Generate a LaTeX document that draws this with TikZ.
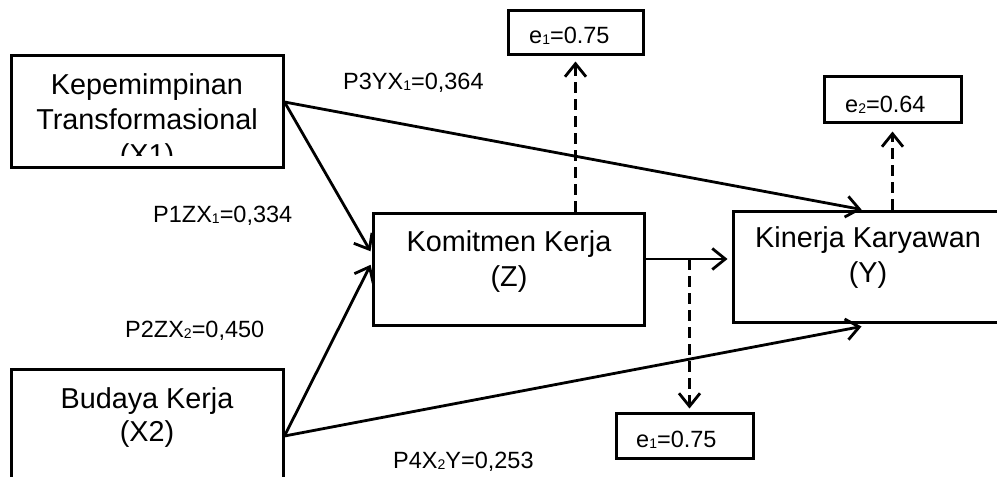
\documentclass[tikz,border=0pt]{standalone}
\usepackage{fontspec}
\setmainfont{Liberation Sans}
\usetikzlibrary{arrows.meta}
\newcommand{\subidx}[1]{\raisebox{-0.06em}{\fontsize{14}{14}\selectfont #1}}
\tikzset{
  box/.style={draw, line width=3pt, inner sep=0pt},
  boxtext/.style={align=center, inner sep=0pt, font=\fontsize{28.8}{35}\selectfont},
  lbl/.style={anchor=base west, inner sep=0pt, font=\fontsize{23.5}{28}\selectfont},
  arr/.style={line width=2.8pt, -{Straight Barb[length=13pt,width=21pt]}},
  darr/.style={arr, dash pattern=on 11pt off 6pt},
}
\begin{document}
\begin{tikzpicture}[x=1pt,y=-1pt]
\useasboundingbox (0,0) rectangle (997,477);
\clip (0,0) rectangle (997,477);

% boxes
\node[box, minimum width=272pt, minimum height=112pt] (x1) at (147,111) {};
\node[box, minimum width=272pt, minimum height=131pt] (x2) at (147,434.5) {};
\node[box, minimum width=271pt, minimum height=112pt] (z) at (508.5,269) {};
\node[box, minimum width=287pt, minimum height=111pt] (y) at (876.5,266.5) {};
\node[box, minimum width=135pt, minimum height=44pt] (e1t) at (575.5,32) {};
\node[box, minimum width=137pt, minimum height=46pt] (e2) at (892.5,99) {};
\node[box, minimum width=137pt, minimum height=45pt] (e1b) at (684.5,435.5) {};

% box texts
\begin{scope}
  \clip (11,55) rectangle (283,155);
  \node[boxtext] (x1t) at (147,122.5) {Kepemimpinan\\Transformasional\\(X1)};
\end{scope}
\node[boxtext] (zt) at (509,262) {Komitmen Kerja\\(Z)};
\node[boxtext] (yt) at (868,258) {Kinerja Karyawan\\(Y)};
\node[boxtext, font=\fontsize{28.8}{33}\selectfont] (x2t) at (147,418) {Budaya Kerja\\(X2)};

\node[lbl] (e1tt) at (529,43) {e\subidx{1}=0.75};
\node[lbl] (e2t) at (845,112) {e\subidx{2}=0.64};
\node[lbl] (e1bt) at (636,447) {e\subidx{1}=0.75};

% path labels
\node[lbl] (p3) at (343,89) {P3YX\subidx{1}=0,364};
\node[lbl] (p1) at (153,222) {P1ZX\subidx{1}=0,334};
\node[lbl] (p2) at (125,337) {P2ZX\subidx{2}=0,450};
\node[lbl] (p4) at (393,468) {P4X\subidx{2}Y=0,253};

% connectors
\coordinate (x1o) at ([yshift=9pt]x1.east);
\coordinate (x2o) at ([yshift=-1.5pt]x2.east);
\draw[arr] (x1o) -- ([xshift=130pt]y.north west);
\draw[arr, shorten >=2pt] (x1o) -- ([yshift=16pt]z.west);
\draw[arr, shorten >=2pt] (x2o) -- ([yshift=6pt]z.west);
\draw[arr] (x2o) -- ([xshift=130pt,yshift=-3pt]y.south west);
\coordinate (zy) at ([yshift=10pt]z.east);
\draw[arr, shorten >=4pt] (zy) -- (zy -| y.west);
\coordinate (db) at ([xshift=5pt]e1b.north);
\draw[darr, shorten >=3pt] (zy -| db) -- (db);
\draw[darr, shorten >=6pt] (e1t.south |- z.north) -- (e1t.south);
\draw[darr, shorten >=8pt] (e2.south |- y.north) -- (e2.south);
\end{tikzpicture}
\end{document}
